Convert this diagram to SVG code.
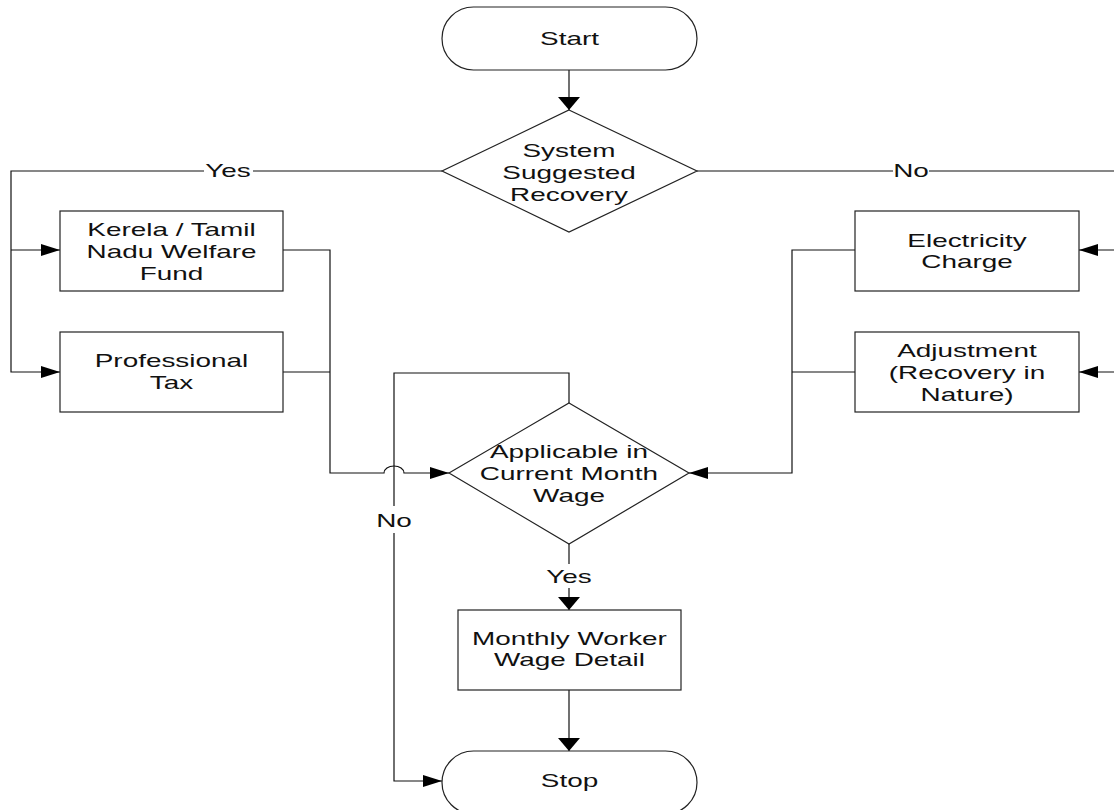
<svg xmlns="http://www.w3.org/2000/svg" width="1114" height="810" viewBox="0 0 1114 810">
  <style>
    .shape { fill: #ffffff; stroke: #222222; stroke-width: 1.2; }
    .wire { fill: none; stroke: #111111; stroke-width: 1.2; }
    .lbl { font-family: "Liberation Sans", Arial, sans-serif; font-size: 18px; fill: #111111; text-anchor: middle; }
    .gap { fill: #ffffff; stroke: none; }
  </style>
  <defs>
    <marker id="arrowH" markerUnits="userSpaceOnUse" markerWidth="19" markerHeight="12" refX="19" refY="6" orient="auto">
      <path d="M0 0 L19 6 L0 12 Z" fill="#000000"/>
    </marker>
    <marker id="arrowV" markerUnits="userSpaceOnUse" markerWidth="13" markerHeight="22" refX="13" refY="11" orient="auto">
      <path d="M0 0 L13 11 L0 22 Z" fill="#000000"/>
    </marker>
  </defs>

  <rect width="1114" height="810" fill="#ffffff"/>

  <!-- connectors -->
  <g id="connectors">
    <path class="wire" d="M569 70 V110" marker-end="url(#arrowV)"/>
    <!-- Yes branch -->
    <path class="wire" d="M442 171 H11 V372 H60" marker-end="url(#arrowH)"/>
    <path class="wire" d="M11 250 H60" marker-end="url(#arrowH)"/>
    <!-- No branch (vertical runs just past the right edge) -->
    <path class="wire" d="M697 171 H1120 V372 H1079" marker-end="url(#arrowH)"/>
    <path class="wire" d="M1120 250 H1079" marker-end="url(#arrowH)"/>
    <!-- left boxes into applicability check, hopping over the No line -->
    <path class="wire" d="M283 250 H330 V473 H384 A10 7 0 0 1 404 473 H449" marker-end="url(#arrowH)"/>
    <path class="wire" d="M283 372 H330"/>
    <!-- right boxes into applicability check -->
    <path class="wire" d="M855 250 H792 V473 H689" marker-end="url(#arrowH)"/>
    <path class="wire" d="M855 372 H792"/>
    <!-- No: straight to Stop -->
    <path class="wire" d="M569 403 V373 H394 V781 H442" marker-end="url(#arrowH)"/>
    <!-- Yes: to wage detail -->
    <path class="wire" d="M569 544 V610" marker-end="url(#arrowV)"/>
    <path class="wire" d="M569 690 V751" marker-end="url(#arrowV)"/>

    <!-- edge labels -->
    <rect class="gap" x="204" y="162" width="49" height="18"/>
    <text class="lbl" transform="translate(228 0) scale(1.55 1)" x="0" y="177">Yes</text>
    <rect class="gap" x="893" y="162" width="36" height="18"/>
    <text class="lbl" transform="translate(911 0) scale(1.55 1)" x="0" y="177">No</text>
    <rect class="gap" x="376" y="506" width="36" height="27"/>
    <text class="lbl" transform="translate(394 0) scale(1.55 1)" x="0" y="527">No</text>
    <rect class="gap" x="545" y="564" width="49" height="24"/>
    <text class="lbl" transform="translate(569 0) scale(1.55 1)" x="0" y="583">Yes</text>
  </g>

  <g id="start">
    <rect class="shape" x="442" y="7" width="255" height="63" rx="31.5" ry="31.5"/>
    <text class="lbl" transform="translate(569.5 0) scale(1.55 1)" x="0" y="45">Start</text>
  </g>

  <g id="system-suggested-recovery">
    <polygon class="shape" points="569,110 697,171 569,232 442,171"/>
    <g class="lbl" transform="translate(569 0) scale(1.55 1)">
      <text x="0" y="157">System</text>
      <text x="0" y="179">Suggested</text>
      <text x="0" y="201">Recovery</text>
    </g>
  </g>

  <g id="welfare-fund">
    <rect class="shape" x="60" y="211" width="223" height="80"/>
    <g class="lbl" transform="translate(171.5 0) scale(1.55 1)">
      <text x="0" y="236">Kerela / Tamil</text>
      <text x="0" y="258">Nadu Welfare</text>
      <text x="0" y="280">Fund</text>
    </g>
  </g>

  <g id="professional-tax">
    <rect class="shape" x="60" y="332" width="223" height="80"/>
    <g class="lbl" transform="translate(171.5 0) scale(1.55 1)">
      <text x="0" y="367">Professional</text>
      <text x="0" y="389">Tax</text>
    </g>
  </g>

  <g id="electricity-charge">
    <rect class="shape" x="855" y="211" width="224" height="80"/>
    <g class="lbl" transform="translate(967 0) scale(1.55 1)">
      <text x="0" y="247">Electricity</text>
      <text x="0" y="268">Charge</text>
    </g>
  </g>

  <g id="adjustment">
    <rect class="shape" x="855" y="332" width="224" height="80"/>
    <g class="lbl" transform="translate(967 0) scale(1.55 1)">
      <text x="0" y="357">Adjustment</text>
      <text x="0" y="379">(Recovery in</text>
      <text x="0" y="401">Nature)</text>
    </g>
  </g>

  <g id="applicable-current-month">
    <polygon class="shape" points="569,403 689,473 569,544 449,473"/>
    <g class="lbl" transform="translate(569 0) scale(1.55 1)">
      <text x="0" y="458">Applicable in</text>
      <text x="0" y="480">Current Month</text>
      <text x="0" y="502">Wage</text>
    </g>
  </g>

  <g id="monthly-wage-detail">
    <rect class="shape" x="458" y="610" width="223" height="80"/>
    <g class="lbl" transform="translate(569.5 0) scale(1.55 1)">
      <text x="0" y="645">Monthly Worker</text>
      <text x="0" y="666">Wage Detail</text>
    </g>
  </g>

  <g id="stop">
    <rect class="shape" x="442" y="751" width="255" height="63" rx="31.5" ry="31.5"/>
    <text class="lbl" transform="translate(569.5 0) scale(1.55 1)" x="0" y="787">Stop</text>
  </g>
</svg>
